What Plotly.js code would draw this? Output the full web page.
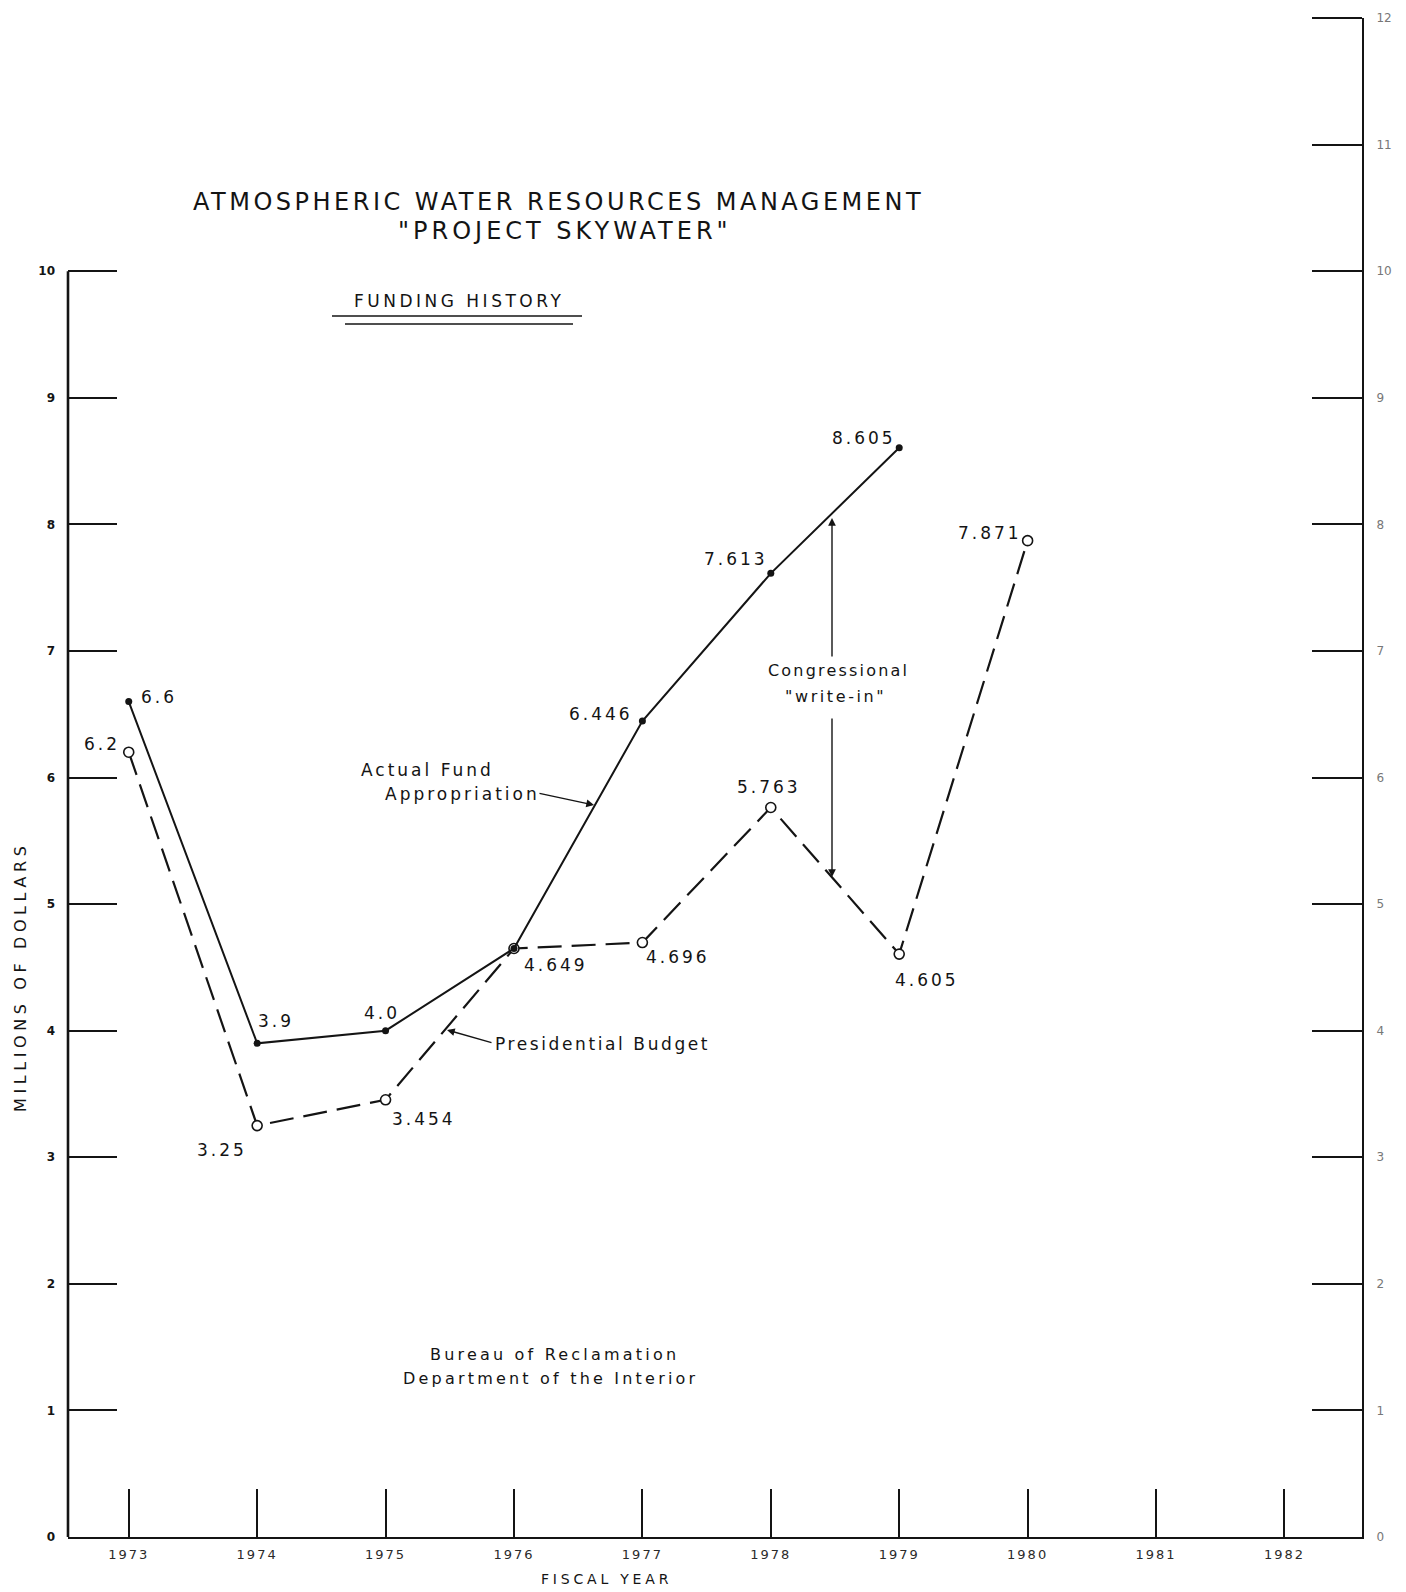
<!DOCTYPE html>
<html>
<head>
<meta charset="utf-8">
<script src="https://cdn.plot.ly/plotly-3.0.1.min.js"></script>
<style>
  html, body { margin: 0; padding: 0; background: #ffffff; }
  #chart { width: 1406px; height: 1592px; }
</style>
</head>
<body>
<div id="chart"></div>
<script>
// ---------------- DATA ----------------
const actualYears  = [1973, 1974, 1975, 1976, 1977, 1978, 1979];
const actualValues = [6.6, 3.9, 4.0, 4.649, 6.446, 7.613, 8.605];
const actualLabels = ['6.6', '3.9', '4.0', '', '6.446', '7.613', '8.605'];

const presYears  = [1973, 1974, 1975, 1976, 1977, 1978, 1979, 1980];
const presValues = [6.2, 3.25, 3.454, 4.649, 4.696, 5.763, 4.605, 7.871];
const presLabels = ['6.2', '3.25', '3.454', '4.649', '4.696', '5.763', '4.605', '7.871'];

const xTickYears  = [1973, 1974, 1975, 1976, 1977, 1978, 1979, 1980, 1981, 1982];
const xTickLabels = ['1973', '1974', '1975', '1976', '1977', '1978', '1979', '1980', '1981', '1982'];
const leftTickVals  = [0, 1, 2, 3, 4, 5, 6, 7, 8, 9, 10];
const rightTickVals = [0, 1, 2, 3, 4, 5, 6, 7, 8, 9, 10, 11, 12];

// ---------------- LAYOUT HELPERS ----------------
const W = 1406, H = 1592;
const M = { l: 68, r: 44, t: 18, b: 55 };
const PX = x => (x - M.l) / (W - M.l - M.r);
const PY = y => (H - M.b - y) / (H - M.t - M.b);
const sp = (t, ls) => '<span style="letter-spacing:' + ls + 'px">' + t + '</span>';
const FONT = 'DejaVu Sans, Liberation Sans, sans-serif';
const INK = '#141414';

// label offsets (pixels) relative to each point
const actualOffsets = [[30, 5], [19, 22], [-4, 18], null, [-41, 7], [-35, 14], [-35, 10]];
const presOffsets   = [[-27, 8], [-35, -24], [38, -19], [42, -16], [36, -14], [-2, 21], [28, -26], [-38, 8]];

const annotations = [];
function pointLabels(xs, ys, labels, offs) {
  xs.forEach((x, i) => {
    if (!labels[i] || !offs[i]) return;
    annotations.push({
      x: x, y: ys[i], xref: 'x', yref: 'y', showarrow: false,
      text: sp(labels[i], 3), xshift: offs[i][0], yshift: offs[i][1],
      font: { family: FONT, size: 17, color: INK }
    });
  });
}
pointLabels(actualYears, actualValues, actualLabels, actualOffsets);
pointLabels(presYears, presValues, presLabels, presOffsets);

function txt(t, x, y, size, ls, extra) {
  annotations.push(Object.assign({
    x: PX(x), y: PY(y), xref: 'paper', yref: 'paper', showarrow: false,
    xanchor: 'center', yanchor: 'middle',
    text: sp(t, ls), font: { family: FONT, size: size, color: INK }
  }, extra || {}));
}
function arrow(hx, hy, ax, ay) {
  annotations.push({
    x: PX(hx), y: PY(hy), xref: 'paper', yref: 'paper', text: '',
    showarrow: true, ax: ax, ay: ay, arrowhead: 2, arrowsize: 1.1,
    arrowwidth: 1.4, arrowcolor: INK
  });
}

// titles and notes
txt('ATMOSPHERIC WATER RESOURCES MANAGEMENT', 558, 202, 24, 3.5);
txt('"PROJECT SKYWATER"', 565, 231, 24, 4.0);
txt('FUNDING HISTORY', 459, 301, 17, 3.5);
txt('Actual Fund', 427, 770, 17, 3);
txt('Appropriation', 462, 794, 17, 3);
txt('Presidential Budget', 602, 1044, 17, 2.6);
txt('Congressional', 838, 670, 16, 2.2);
txt('"write-in"', 835, 697, 16, 2.6);
txt('Bureau of Reclamation', 554, 1354, 16, 3.2);
txt('Department of the Interior', 550, 1378, 16, 3.2);
txt('FISCAL YEAR', 606, 1579, 14, 3.8);
txt('MILLIONS OF DOLLARS', 20, 977, 16, 4.6, { textangle: -90 });

// leader arrows
arrow(594, 805, -56, -12);
arrow(447, 1030, 46, 13);
arrow(832, 518, 0, 140);
arrow(832, 877, 0, -160);

// ---------------- TRACES ----------------
const presTrace = {
  x: presYears, y: presValues, type: 'scatter', mode: 'lines+markers',
  name: 'Presidential Budget', xaxis: 'x', yaxis: 'y',
  line: { color: INK, width: 2.2, dash: '24px,10px' },
  marker: { symbol: 'circle', size: 10, color: '#ffffff', line: { color: INK, width: 1.6 } },
  hoverinfo: 'x+y'
};
const actualTrace = {
  x: actualYears, y: actualValues, type: 'scatter', mode: 'lines+markers',
  name: 'Actual Fund Appropriation', xaxis: 'x', yaxis: 'y',
  line: { color: INK, width: 2 },
  marker: { symbol: 'circle', size: 7, color: INK },
  hoverinfo: 'x+y'
};
// invisible trace to activate the right axis
const rightAxisTrace = {
  x: [xTickYears[0]], y: [0], type: 'scatter', mode: 'markers', yaxis: 'y2',
  marker: { opacity: 0 }, hoverinfo: 'skip', showlegend: false
};

const layout = {
  width: W, height: H,
  margin: M,
  paper_bgcolor: '#ffffff', plot_bgcolor: '#ffffff',
  showlegend: false,
  font: { family: FONT, color: INK },
  xaxis: {
    range: [1972.527, 1982.604],
    tickvals: xTickYears, ticktext: xTickLabels.map(t => sp(t, 2)),
    ticks: 'inside', ticklen: 48, tickwidth: 2, tickcolor: INK,
    showline: true, linewidth: 2, linecolor: INK,
    showgrid: false, zeroline: false, ticklabelstandoff: 4,
    tickfont: { family: FONT, size: 13, color: '#2a2a2a' }
  },
  yaxis: {
    range: [0, 12],
    tickvals: leftTickVals, ticktext: leftTickVals.map(String),
    ticks: 'inside', ticklen: 49, tickwidth: 2, tickcolor: INK,
    showline: false, showgrid: false, zeroline: false, ticklabelstandoff: 12,
    tickfont: { family: FONT, size: 12, color: INK, weight: 'bold' }
  },
  yaxis2: {
    range: [0, 12], overlaying: 'y', side: 'right',
    tickvals: rightTickVals, ticktext: rightTickVals.map(String),
    ticks: 'inside', ticklen: 50, tickwidth: 2, tickcolor: INK,
    showline: true, linewidth: 2, linecolor: INK,
    showgrid: false, zeroline: false, ticklabelstandoff: 10,
    tickfont: { family: FONT, size: 12, color: '#777777' }
  },
  shapes: [
    // left axis line (0 to 10 only)
    { type: 'line', xref: 'paper', yref: 'y', x0: 0, x1: 0, y0: 0, y1: leftTickVals[leftTickVals.length - 1],
      line: { color: INK, width: 2.6 } },
    // top tick of the right axis (at the plot edge)
    { type: 'line', xref: 'paper', yref: 'paper', x0: 1 - 50 / (W - M.l - M.r), x1: 1, y0: 1, y1: 1,
      line: { color: INK, width: 2 } },
    // double underline for FUNDING HISTORY
    { type: 'line', xref: 'paper', yref: 'paper', x0: PX(332), x1: PX(582), y0: PY(316), y1: PY(316),
      line: { color: INK, width: 1.3 } },
    { type: 'line', xref: 'paper', yref: 'paper', x0: PX(345), x1: PX(573), y0: PY(324), y1: PY(324),
      line: { color: INK, width: 1.3 } }
  ],
  annotations: annotations
};

Plotly.newPlot('chart', [presTrace, actualTrace, rightAxisTrace], layout, { displayModeBar: false, staticPlot: true });
</script>
</body>
</html>
